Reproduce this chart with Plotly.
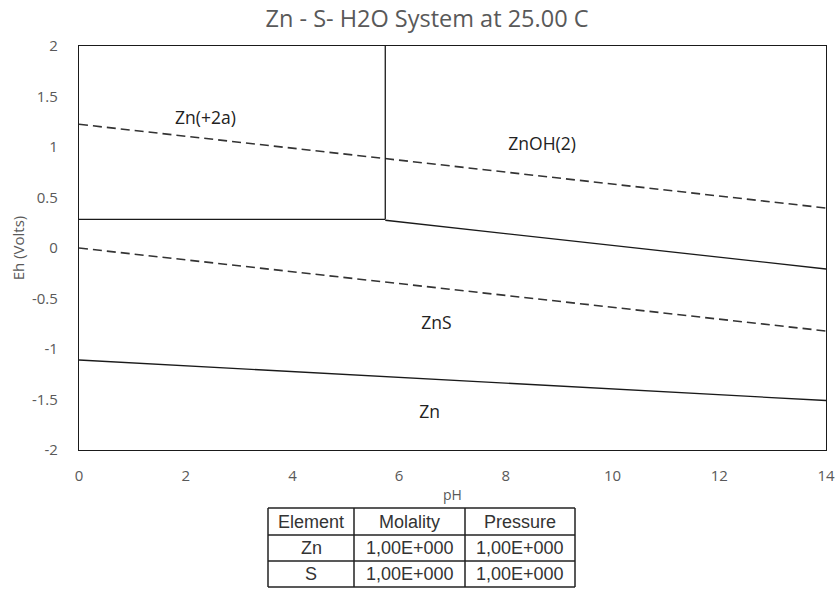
import plotly.graph_objects as go

# ---- data ----
# boundary lines (pH, Eh)
upper_water_ph = [0, 14]
upper_water_eh = [1.225, 0.396]
lower_water_ph = [0, 14]
lower_water_eh = [0.0, -0.822]
zn2_horiz_ph = [0, 5.74]
zn2_horiz_eh = [0.284, 0.284]
zn2_vert_ph = [5.74, 5.74]
zn2_vert_eh = [0.284, 2.0]
znoh_zns_ph = [5.74, 14]
znoh_zns_eh = [0.275, -0.208]
zns_zn_ph = [0, 14]
zns_zn_eh = [-1.109, -1.51]

label_text = ["Zn(+2a)", "ZnOH(2)", "ZnS", "Zn"]
label_ph = [2.37, 8.68, 6.70, 6.57]
label_eh = [1.27, 1.01, -0.76, -1.64]

x_ticks = [0, 2, 4, 6, 8, 10, 12, 14]
y_ticks = [2, 1.5, 1, 0.5, 0, -0.5, -1, -1.5, -2]
y_ticktext = ["2", "1.5", "1", "0.5", "0", "-0.5", "-1", "-1.5", "-2"]

table_header = ["Element", "Molality", "Pressure"]
table_rows = [["Zn", "1,00E+000", "1,00E+000"],
              ["S", "1,00E+000", "1,00E+000"]]

# ---- figure ----
W, H = 839, 589
ML, MR, MT, MB = 79, 13, 46, 139
PW, PH = W - ML - MR, H - MT - MB

fig = go.Figure()

solid = dict(color="#1a1a1a", width=1.3)
dashed = dict(color="#333333", width=1.6, dash="9px,5px")

for xs, ys, ln in [
    (upper_water_ph, upper_water_eh, dashed),
    (lower_water_ph, lower_water_eh, dashed),
    (zn2_horiz_ph, zn2_horiz_eh, solid),
    (zn2_vert_ph, zn2_vert_eh, solid),
    (znoh_zns_ph, znoh_zns_eh, solid),
    (zns_zn_ph, zns_zn_eh, solid),
]:
    fig.add_trace(go.Scatter(x=xs, y=ys, mode="lines", line=ln,
                             showlegend=False, hoverinfo="skip"))

fig.add_trace(go.Scatter(x=label_ph, y=label_eh, mode="text", text=label_text,
                         textfont=dict(family="Open Sans", size=17.5, color="#222222"),
                         showlegend=False, hoverinfo="skip"))

# ---- table (drawn below plot in paper coords) ----
def px_to_paper_x(px):
    return (px - ML) / PW

def py_to_paper_y(py):
    return (MT + PH - py) / PH

col_edges = [268, 354, 465, 575]
row_edges = [508, 535, 561, 587]
shapes = []
tl = dict(color="#222222", width=1.5)
for cx in col_edges:
    shapes.append(dict(type="line", xref="paper", yref="paper",
                       x0=px_to_paper_x(cx), x1=px_to_paper_x(cx),
                       y0=py_to_paper_y(row_edges[0]), y1=py_to_paper_y(row_edges[-1]),
                       line=tl))
for ry in row_edges:
    shapes.append(dict(type="line", xref="paper", yref="paper",
                       x0=px_to_paper_x(col_edges[0]), x1=px_to_paper_x(col_edges[-1]),
                       y0=py_to_paper_y(ry), y1=py_to_paper_y(ry), line=tl))

annotations = []
all_rows = [table_header] + table_rows
for ri, row in enumerate(all_rows):
    cy = (row_edges[ri] + row_edges[ri + 1]) / 2
    for ci, val in enumerate(row):
        cx = (col_edges[ci] + col_edges[ci + 1]) / 2
        annotations.append(dict(text=val, xref="paper", yref="paper",
                                x=px_to_paper_x(cx), y=py_to_paper_y(cy),
                                xanchor="center", yanchor="middle", showarrow=False,
                                font=dict(family="Liberation Sans", size=18, color="#333333")))

fig.update_layout(
    width=W, height=H,
    margin=dict(l=ML, r=MR, t=MT, b=MB, autoexpand=False),
    paper_bgcolor="white", plot_bgcolor="white",
    title=dict(text="Zn - S- H2O System at 25.00 C", x=427 / W, xanchor="center",
               xref="container",
               y=1 - 19 / H, yanchor="middle",
               font=dict(family="Open Sans", size=23.5, color="#595959")),
    xaxis=dict(range=[0, 14], tickvals=x_ticks, showgrid=False, zeroline=False,
               showline=True, linecolor="#1a1a1a", linewidth=1.3, mirror=True,
               ticks="", ticklabelstandoff=12, automargin=False,
               tickfont=dict(family="Open Sans", size=15, color="#595959"),
               title=dict(text="pH", standoff=6,
                          font=dict(family="Open Sans", size=14, color="#595959"))),
    yaxis=dict(range=[-2, 2], tickvals=y_ticks, ticktext=y_ticktext, showgrid=False,
               zeroline=False, showline=True, linecolor="#1a1a1a", linewidth=1.3,
               mirror=True, ticks="", ticklabelstandoff=17, automargin=False,
               tickfont=dict(family="Open Sans", size=15, color="#595959"),
               title=dict(text="Eh (Volts)", standoff=3,
                          font=dict(family="Open Sans", size=15, color="#595959"))),
    shapes=shapes,
    annotations=annotations,
)

fig.write_html("out.html")
